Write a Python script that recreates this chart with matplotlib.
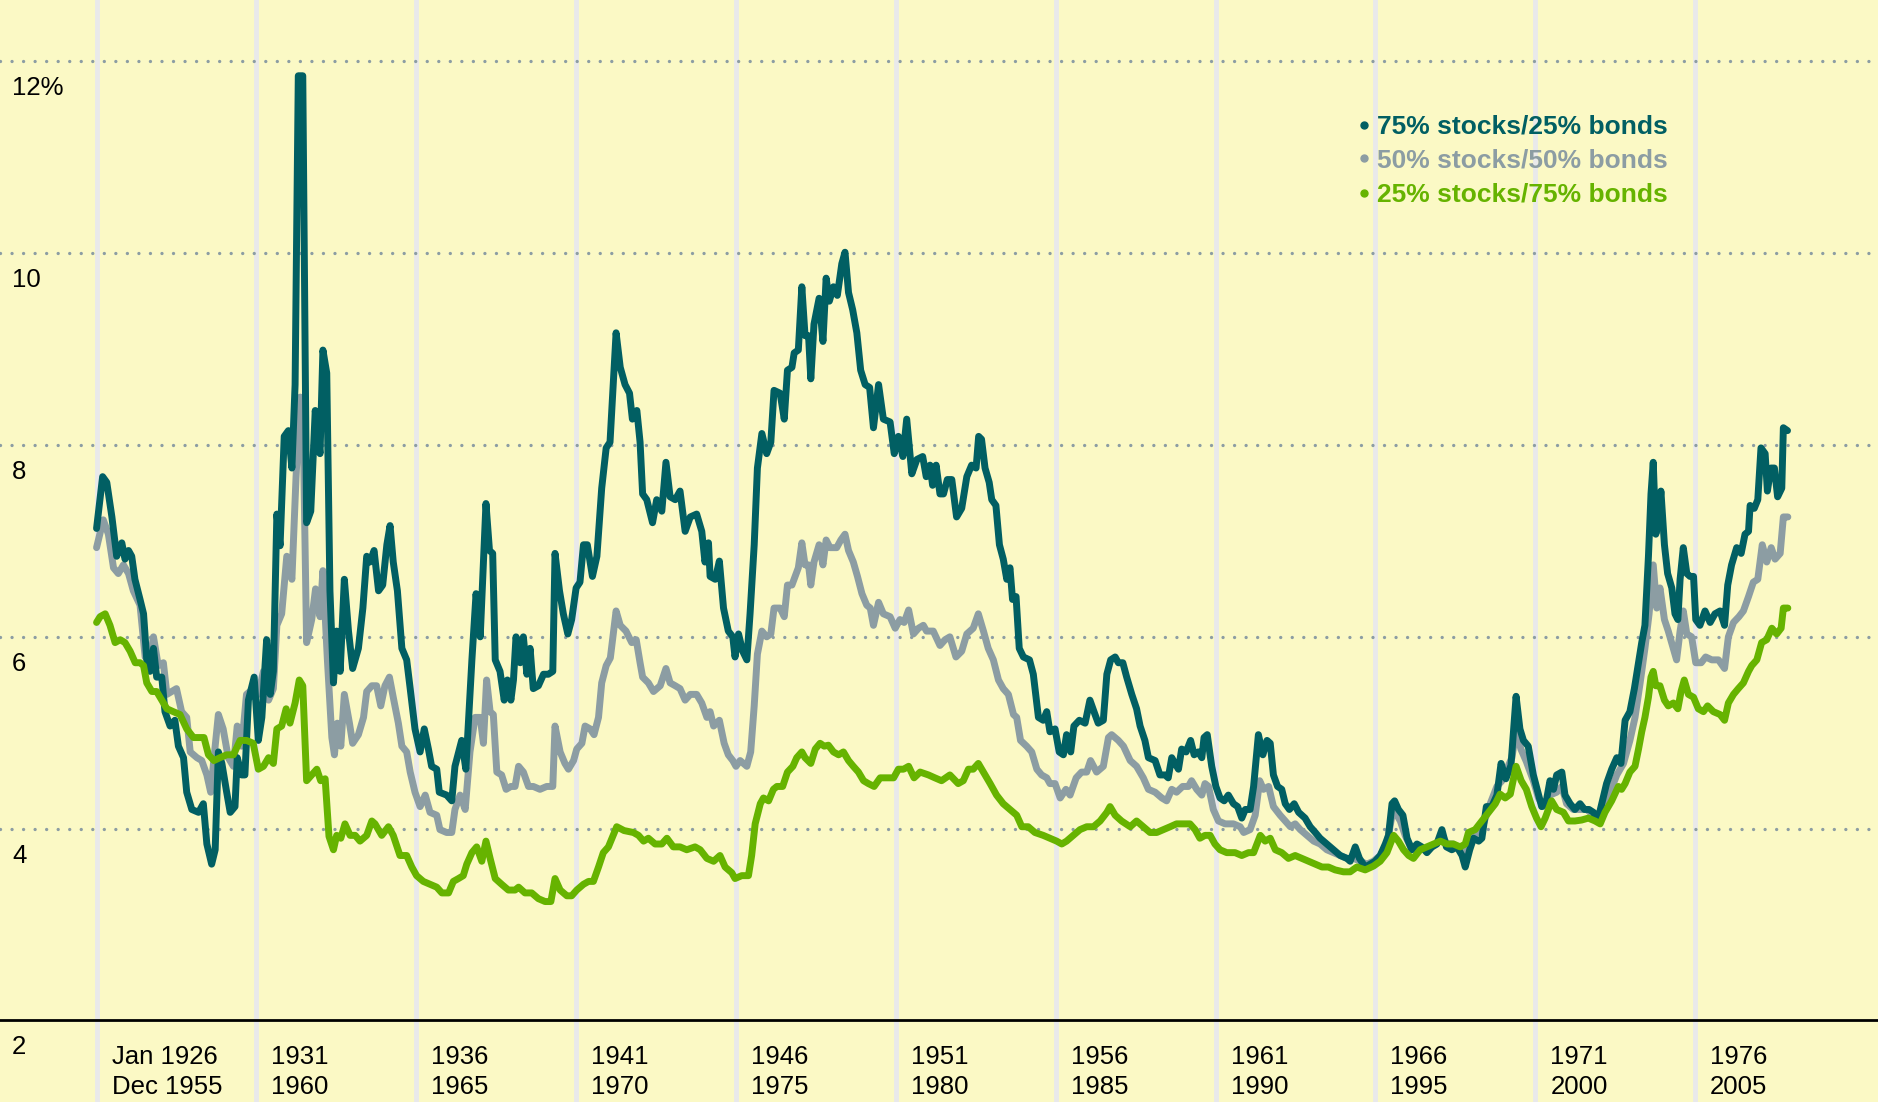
import matplotlib
matplotlib.use("Agg")
import matplotlib.pyplot as plt
import matplotlib.transforms as mtransforms
import numpy as np

plt.rcParams['font.family'] = ['Liberation Sans', 'DejaVu Sans']

# ---- data: years since Jan 1926 (start of 30-year period) and annualised return (%) ----
t_75 = [0.00, 0.19, 0.32, 0.48, 0.63, 0.79, 0.89, 1.00, 1.10, 1.20, 1.36, 1.47, 1.57, 1.67, 1.78, 1.88,
        2.04, 2.14, 2.30, 2.45, 2.56, 2.72, 2.82, 2.98, 3.19, 3.34, 3.45, 3.60, 3.71, 3.81, 3.92, 4.07,
        4.18, 4.33, 4.40, 4.54, 4.64, 4.75, 4.93, 5.06, 5.17, 5.32, 5.43, 5.53, 5.64, 5.74, 5.87, 6.00,
        6.11, 6.21, 6.31, 6.45, 6.57, 6.70, 6.84, 6.99, 7.08, 7.20, 7.30, 7.41, 7.51, 7.62, 7.75, 7.88,
        8.01, 8.19, 8.33, 8.45, 8.55, 8.68, 8.82, 8.95, 9.08, 9.18, 9.28, 9.41, 9.55, 9.70, 9.81, 9.96,
        10.12, 10.25, 10.38, 10.48, 10.64, 10.72, 10.95, 11.11, 11.21, 11.42, 11.55, 11.74, 11.87, 12.00,
        12.18, 12.29, 12.39, 12.47, 12.62, 12.75, 12.85, 12.96, 13.04, 13.12, 13.25, 13.35, 13.46, 13.56,
        13.66, 13.82, 13.98, 14.13, 14.27, 14.34, 14.48, 14.60, 14.74, 14.86, 15.00, 15.12, 15.23, 15.35,
        15.51, 15.65, 15.80, 15.94, 16.06, 16.25, 16.38, 16.53, 16.67, 16.76, 16.90, 17.00, 17.08, 17.21,
        17.39, 17.52, 17.68, 17.81, 17.94, 18.10, 18.25, 18.41, 18.57, 18.77, 18.93, 19.03, 19.14, 19.19,
        19.35, 19.48, 19.61, 19.76, 19.90, 19.97, 20.08, 20.21, 20.34, 20.44, 20.57, 20.67, 20.81, 20.96,
        21.09, 21.19, 21.38, 21.51, 21.61, 21.75, 21.82, 21.95, 22.06, 22.16, 22.27, 22.34, 22.44, 22.60,
        22.72, 22.82, 22.92, 23.05, 23.17, 23.31, 23.41, 23.52, 23.65, 23.78, 23.90, 24.04, 24.18, 24.30,
        24.46, 24.61, 24.82, 24.95, 25.08, 25.22, 25.34, 25.50, 25.66, 25.84, 25.95, 26.07, 26.15, 26.26,
        26.38, 26.49, 26.61, 26.75, 26.90, 27.06, 27.22, 27.37, 27.51, 27.59, 27.68, 27.79, 27.92, 28.00,
        28.13, 28.24, 28.36, 28.47, 28.57, 28.65, 28.76, 28.86, 28.99, 29.18, 29.30, 29.46, 29.61, 29.72,
        29.82, 29.98, 30.11, 30.24, 30.34, 30.47, 30.57, 30.74, 30.92, 31.07, 31.23, 31.33, 31.49, 31.60,
        31.72, 31.86, 31.96, 32.10, 32.22, 32.38, 32.53, 32.64, 32.79, 32.90, 33.11, 33.26, 33.42, 33.52,
        33.63, 33.73, 33.84, 33.94, 34.08, 34.22, 34.33, 34.46, 34.57, 34.64, 34.74, 34.88, 35.01, 35.14,
        35.27, 35.40, 35.56, 35.69, 35.82, 35.93, 36.08, 36.19, 36.34, 36.48, 36.61, 36.71, 36.81, 36.94,
        37.07, 37.18, 37.31, 37.46, 37.60, 37.80, 37.96, 38.12, 38.27, 38.48, 38.69, 38.90, 39.11, 39.21,
        39.37, 39.50, 39.68, 39.84, 39.99, 40.15, 40.31, 40.41, 40.52, 40.60, 40.72, 40.86, 40.99, 41.14,
        41.30, 41.45, 41.61, 41.77, 41.92, 42.08, 42.22, 42.39, 42.55, 42.71, 42.81, 42.95, 43.07, 43.23,
        43.33, 43.47, 43.64, 43.80, 43.93, 44.08, 44.24, 44.40, 44.52, 44.63, 44.78, 44.94, 45.08, 45.20,
        45.33, 45.46, 45.57, 45.67, 45.83, 45.93, 46.09, 46.24, 46.40, 46.54, 46.68, 46.82, 46.95, 47.08,
        47.23, 47.39, 47.55, 47.68, 47.81, 47.96, 48.10, 48.23, 48.33, 48.43, 48.54, 48.62, 48.69, 48.77,
        48.85, 48.93, 49.04, 49.14, 49.27, 49.37, 49.46, 49.53, 49.63, 49.74, 49.84, 49.95, 50.02, 50.15,
        50.31, 50.47, 50.62, 50.78, 50.92, 51.02, 51.14, 51.30, 51.44, 51.56, 51.67, 51.72, 51.85, 51.96,
        52.06, 52.19, 52.26, 52.37, 52.48, 52.58, 52.71, 52.76, 52.89]
v_75 = [7.13, 7.67, 7.61, 7.25, 6.84, 6.98, 6.81, 6.90, 6.84, 6.60, 6.39, 6.24, 5.76, 5.64, 5.88, 5.58,
        5.58, 5.22, 5.07, 5.13, 4.86, 4.74, 4.38, 4.20, 4.17, 4.26, 3.84, 3.63, 3.78, 4.80, 4.68, 4.38,
        4.17, 4.23, 4.74, 4.56, 4.56, 5.34, 5.58, 4.92, 5.16, 5.97, 5.40, 5.64, 7.28, 6.95, 8.09, 8.15,
        7.76, 8.63, 11.85, 11.85, 7.19, 7.31, 8.36, 7.91, 8.99, 8.75, 6.48, 5.52, 6.06, 5.64, 6.60, 6.06,
        5.67, 5.88, 6.30, 6.84, 6.78, 6.90, 6.48, 6.54, 6.96, 7.16, 6.78, 6.48, 5.88, 5.76, 5.46, 5.04,
        4.80, 5.04, 4.83, 4.65, 4.62, 4.38, 4.35, 4.29, 4.65, 4.92, 4.62, 5.76, 6.45, 6.00,
        7.39, 6.90, 6.87, 5.76, 5.64, 5.34, 5.55, 5.34, 5.55, 6.00, 5.73, 6.00, 5.61, 5.88,
        5.46, 5.49, 5.61, 5.61, 5.64, 6.87, 6.48, 6.24, 6.03, 6.18, 6.51, 6.57, 6.96, 6.96,
        6.63, 6.84, 7.55, 7.97, 8.03, 9.17, 8.81, 8.63, 8.54, 8.27, 8.36, 8.03, 7.49, 7.43,
        7.19, 7.43, 7.31, 7.82, 7.46, 7.43, 7.52, 7.10, 7.25, 7.28, 7.10, 6.78, 6.98, 6.63,
        6.60, 6.79, 6.30, 6.06, 6.00, 5.79, 6.03, 5.85, 5.76, 6.24, 6.96, 7.76, 8.12, 7.91,
        8.03, 8.57, 8.54, 8.27, 8.78, 8.81, 8.96, 8.99, 9.65, 9.14, 9.14, 8.69, 9.26, 9.53,
        9.08, 9.74, 9.50, 9.65, 9.56, 9.89, 10.01, 9.59, 9.41, 9.17, 8.78, 8.63, 8.60, 8.18,
        8.63, 8.27, 8.24, 7.91, 8.09, 7.88, 8.27, 7.70, 7.85, 7.88, 7.67, 7.79, 7.58, 7.79,
        7.49, 7.49, 7.64, 7.64, 7.25, 7.34, 7.67, 7.79, 7.76, 8.09, 8.06, 7.76, 7.61, 7.43,
        7.37, 6.96, 6.81, 6.60, 6.72, 6.39, 6.42, 5.88, 5.79, 5.76, 5.61, 5.16, 5.13, 5.22,
        5.01, 5.04, 4.80, 4.77, 4.98, 4.80, 5.07, 5.13, 5.10, 5.34, 5.19, 5.10, 5.13, 5.61,
        5.76, 5.79, 5.73, 5.73, 5.58, 5.40, 5.25, 5.07, 4.92, 4.74, 4.71, 4.56, 4.56, 4.53,
        4.74, 4.68, 4.62, 4.83, 4.80, 4.92, 4.77, 4.80, 4.74, 4.95, 4.98, 4.65, 4.44, 4.32,
        4.29, 4.35, 4.26, 4.23, 4.11, 4.20, 4.20, 4.44, 4.98, 4.77, 4.92, 4.89, 4.56, 4.44,
        4.41, 4.26, 4.20, 4.26, 4.17, 4.11, 4.02, 3.96, 3.90, 3.84, 3.78, 3.72, 3.69, 3.66,
        3.81, 3.69, 3.60, 3.63, 3.66, 3.72, 3.84, 3.93, 4.26, 4.29, 4.20, 4.14, 3.90, 3.78,
        3.84, 3.81, 3.75, 3.81, 3.84, 3.99, 3.81, 3.78, 3.81, 3.72, 3.60, 3.78, 3.90, 3.87,
        3.90, 4.23, 4.23, 4.35, 4.68, 4.52, 4.66, 5.38, 5.04, 4.92, 4.86, 4.56, 4.38, 4.23,
        4.26, 4.50, 4.41, 4.56, 4.59, 4.35, 4.26, 4.20, 4.26, 4.20, 4.20, 4.17, 4.08, 4.26,
        4.47, 4.62, 4.74, 4.68, 5.13, 5.22, 5.46, 5.73, 5.94, 6.12, 6.84, 7.49, 7.82, 7.07,
        7.19, 7.52, 6.96, 6.66, 6.51, 6.24, 6.18, 6.60, 6.93, 6.66, 6.63, 6.63, 6.18, 6.12,
        6.27, 6.15, 6.24, 6.27, 6.12, 6.54, 6.75, 6.93, 6.87, 7.07, 7.10, 7.37, 7.34, 7.43,
        7.97, 7.91, 7.52, 7.76, 7.76, 7.46, 7.55, 8.18, 8.15]

t_50 = [0.00, 0.21, 0.37, 0.53, 0.68, 0.84, 1.00, 1.15, 1.36, 1.52, 1.67, 1.78, 1.93, 2.09, 2.20, 2.35,
        2.50, 2.66, 2.82, 2.93, 3.14, 3.29, 3.45, 3.57, 3.71, 3.81, 3.96, 4.12, 4.28, 4.40, 4.54, 4.69,
        4.90, 5.06, 5.22, 5.38, 5.53, 5.64, 5.79, 5.95, 6.11, 6.24, 6.37, 6.45, 6.57, 6.73, 6.85, 6.99,
        7.08, 7.22, 7.36, 7.44, 7.53, 7.64, 7.75, 7.91, 8.01, 8.19, 8.35, 8.45, 8.61, 8.76, 8.89, 9.02,
        9.16, 9.28, 9.44, 9.55, 9.70, 9.81, 9.96, 10.12, 10.28, 10.43, 10.64, 10.74, 10.95, 11.11, 11.21,
        11.37, 11.53, 11.68, 11.84, 12.00, 12.10, 12.20, 12.31, 12.41, 12.52, 12.67, 12.81, 12.96, 13.09,
        13.20, 13.35, 13.51, 13.66, 13.87, 14.08, 14.27, 14.34, 14.50, 14.65, 14.76, 14.92, 15.02, 15.18,
        15.28, 15.44, 15.56, 15.70, 15.80, 15.94, 16.07, 16.25, 16.38, 16.56, 16.74, 16.88, 17.00, 17.08,
        17.26, 17.42, 17.63, 17.81, 17.94, 18.10, 18.25, 18.41, 18.57, 18.77, 18.93, 19.09, 19.19, 19.30,
        19.48, 19.63, 19.76, 19.90, 20.00, 20.13, 20.34, 20.46, 20.57, 20.67, 20.81, 20.96, 21.09, 21.19,
        21.38, 21.51, 21.61, 21.75, 21.85, 21.95, 22.06, 22.16, 22.27, 22.34, 22.44, 22.60, 22.72, 22.82,
        22.94, 23.15, 23.28, 23.41, 23.52, 23.67, 23.80, 23.94, 24.09, 24.20, 24.30, 24.46, 24.61, 24.82,
        24.98, 25.13, 25.26, 25.40, 25.55, 25.71, 25.86, 25.96, 26.17, 26.38, 26.54, 26.69, 26.88, 27.06,
        27.22, 27.42, 27.58, 27.74, 27.89, 28.05, 28.21, 28.36, 28.52, 28.68, 28.78, 28.90, 29.09, 29.25,
        29.41, 29.56, 29.72, 29.82, 29.98, 30.14, 30.32, 30.45, 30.64, 30.81, 30.97, 31.09, 31.28, 31.49,
        31.65, 31.75, 31.96, 32.12, 32.33, 32.53, 32.74, 32.90, 33.11, 33.32, 33.47, 33.63, 33.78, 33.97,
        34.15, 34.25, 34.41, 34.57, 34.67, 34.78, 34.93, 35.09, 35.30, 35.56, 35.77, 35.88, 36.08, 36.24,
        36.38, 36.50, 36.66, 36.81, 37.02, 37.18, 37.34, 37.49, 37.65, 37.86, 38.07, 38.27, 38.48, 38.69,
        38.90, 39.11, 39.32, 39.53, 39.73, 39.94, 40.15, 40.36, 40.52, 40.62, 40.78, 40.93, 41.14, 41.35,
        41.56, 41.77, 41.92, 42.08, 42.24, 42.44, 42.65, 42.81, 42.97, 43.17, 43.38, 43.59, 43.80, 43.96,
        44.11, 44.27, 44.40, 44.55, 44.72, 44.94, 45.10, 45.25, 45.46, 45.67, 45.83, 45.98, 46.19, 46.40,
        46.61, 46.82, 46.97, 47.13, 47.34, 47.55, 47.76, 47.96, 48.12, 48.28, 48.43, 48.56, 48.69, 48.80,
        48.90, 49.04, 49.16, 49.29, 49.42, 49.53, 49.63, 49.74, 49.89, 50.02, 50.19, 50.33, 50.52, 50.73,
        50.92, 51.04, 51.20, 51.37, 51.51, 51.67, 51.82, 51.96, 52.10, 52.24, 52.38, 52.50, 52.66, 52.76,
        52.90]
v_50 = [6.93, 7.22, 7.07, 6.72, 6.66, 6.75, 6.66, 6.48, 6.33, 5.79, 5.76, 6.00, 5.70, 5.73, 5.40, 5.43,
        5.46, 5.22, 5.16, 4.80, 4.74, 4.71, 4.56, 4.38, 4.86, 5.19, 5.04, 4.74, 4.65, 5.07, 4.86, 5.40,
        5.46, 5.40, 5.64, 5.34, 5.46, 6.12, 6.24, 6.84, 6.60, 7.67, 8.50, 8.45, 5.94, 6.18, 6.50, 6.21,
        6.69, 5.76, 4.95, 4.77, 5.10, 4.86, 5.40, 5.10, 4.89, 4.98, 5.16, 5.43, 5.49, 5.49, 5.28, 5.49,
        5.58, 5.37, 5.10, 4.86, 4.80, 4.59, 4.38, 4.23, 4.35, 4.17, 4.14, 3.99, 3.96, 3.96, 4.20,
        4.35, 4.20, 4.80, 5.16, 5.16, 4.89, 5.55, 5.22, 5.19, 4.59, 4.56, 4.41, 4.44, 4.44,
        4.65, 4.59, 4.44, 4.44, 4.41, 4.44, 4.44, 5.07, 4.80, 4.68, 4.62, 4.71, 4.83, 4.89,
        5.07, 5.04, 4.98, 5.16, 5.52, 5.70, 5.78, 6.27, 6.12, 6.06, 5.94, 5.97, 5.73, 5.58,
        5.52, 5.43, 5.49, 5.67, 5.52, 5.49, 5.46, 5.34, 5.40, 5.40, 5.31, 5.16, 5.22, 5.07,
        5.13, 4.89, 4.77, 4.71, 4.65, 4.71, 4.65, 4.80, 5.28, 5.82, 6.06, 6.00, 6.03, 6.30,
        6.30, 6.21, 6.54, 6.54, 6.63, 6.72, 6.98, 6.75, 6.75, 6.54, 6.78, 6.96, 6.75, 7.01,
        6.93, 6.93, 7.01, 7.07, 6.90, 6.78, 6.63, 6.45, 6.33, 6.30, 6.12, 6.36, 6.24, 6.21,
        6.09, 6.18, 6.15, 6.28, 6.03, 6.09, 6.12, 6.06, 6.06, 5.91, 5.97, 6.00, 5.79, 5.85,
        6.03, 6.09, 6.24, 6.06, 5.88, 5.76, 5.55, 5.46, 5.40, 5.19, 5.16, 4.92, 4.86, 4.80,
        4.62, 4.56, 4.53, 4.47, 4.47, 4.32, 4.41, 4.35, 4.53, 4.59, 4.59, 4.71, 4.59, 4.65,
        4.95, 4.98, 4.92, 4.86, 4.71, 4.65, 4.53, 4.41, 4.38, 4.32, 4.29, 4.41, 4.38, 4.44,
        4.44, 4.50, 4.41, 4.35, 4.47, 4.44, 4.20, 4.08, 4.05, 4.05, 4.02, 3.96, 3.99, 4.14,
        4.50, 4.41, 4.44, 4.23, 4.14, 4.08, 4.02, 4.05, 3.99, 3.93, 3.87, 3.84, 3.78, 3.75,
        3.72, 3.69, 3.69, 3.66, 3.63, 3.66, 3.72, 3.84, 4.14, 4.17, 4.08, 3.93, 3.78, 3.81,
        3.78, 3.81, 3.84, 3.93, 3.84, 3.84, 3.78, 3.72, 3.87, 3.96, 4.05, 4.26, 4.44, 4.50,
        4.62, 4.74, 5.03, 4.83, 4.70, 4.50, 4.32, 4.23, 4.35, 4.38, 4.44, 4.26, 4.20, 4.20,
        4.20, 4.14, 4.08, 4.23, 4.38, 4.56, 4.68, 4.92, 5.16, 5.52, 5.88, 6.24, 6.75, 6.30,
        6.51, 6.18, 6.06, 5.91, 5.76, 6.06, 6.27, 6.03, 6.00, 5.73, 5.73, 5.79, 5.76, 5.76,
        5.67, 6.00, 6.15, 6.21, 6.27, 6.42, 6.57, 6.60, 6.96, 6.78, 6.93, 6.81, 6.87, 7.25,
        7.25]

t_25 = [0.00, 0.11, 0.27, 0.42, 0.58, 0.74, 0.89, 1.05, 1.21, 1.36, 1.47, 1.57, 1.73, 1.88, 2.04, 2.20,
        2.40, 2.61, 2.82, 3.03, 3.24, 3.36, 3.50, 3.67, 3.86, 4.07, 4.28, 4.49, 4.69, 4.90, 5.06, 5.22,
        5.38, 5.53, 5.64, 5.79, 5.93, 6.05, 6.21, 6.34, 6.45, 6.57, 6.73, 6.89, 7.01, 7.15, 7.27, 7.41,
        7.51, 7.64, 7.77, 7.93, 8.09, 8.24, 8.45, 8.61, 8.71, 8.92, 9.13, 9.28, 9.49, 9.70, 9.86, 10.01,
        10.22, 10.43, 10.64, 10.80, 11.01, 11.16, 11.32, 11.47, 11.58, 11.74, 11.89, 12.05, 12.18, 12.31,
        12.47, 12.67, 12.88, 13.09, 13.20, 13.40, 13.61, 13.82, 14.03, 14.21, 14.34, 14.50, 14.71, 14.86,
        15.02, 15.23, 15.39, 15.54, 15.70, 15.85, 16.01, 16.12, 16.27, 16.50, 16.79, 16.95, 17.11, 17.26,
        17.47, 17.68, 17.84, 18.04, 18.25, 18.46, 18.72, 18.88, 19.09, 19.30, 19.50, 19.66, 19.87, 19.97,
        20.18, 20.39, 20.49, 20.60, 20.76, 20.86, 21.02, 21.17, 21.28, 21.46, 21.61, 21.78, 21.90, 22.06,
        22.16, 22.34, 22.48, 22.63, 22.76, 22.89, 23.05, 23.21, 23.36, 23.52, 23.67, 23.83, 23.99, 24.14,
        24.32, 24.51, 24.72, 24.93, 25.08, 25.24, 25.40, 25.57, 25.76, 26.02, 26.22, 26.43, 26.69, 26.95,
        27.11, 27.27, 27.42, 27.58, 27.74, 27.95, 28.15, 28.36, 28.57, 28.78, 28.94, 29.14, 29.35, 29.61,
        29.82, 30.03, 30.19, 30.34, 30.55, 30.76, 30.97, 31.18, 31.39, 31.60, 31.70, 31.86, 32.06, 32.33,
        32.53, 32.74, 32.95, 33.16, 33.37, 33.58, 33.78, 33.99, 34.20, 34.36, 34.51, 34.67, 34.83, 34.98,
        35.14, 35.35, 35.61, 35.82, 36.03, 36.19, 36.40, 36.55, 36.71, 36.87, 37.07, 37.28, 37.49, 37.70,
        37.91, 38.12, 38.33, 38.53, 38.74, 39.00, 39.21, 39.42, 39.68, 39.94, 40.15, 40.36, 40.57, 40.72,
        40.88, 41.04, 41.19, 41.40, 41.61, 41.82, 42.03, 42.24, 42.44, 42.65, 42.81, 42.91, 43.12, 43.33,
        43.54, 43.75, 43.90, 44.06, 44.22, 44.40, 44.56, 44.72, 44.89, 45.04, 45.18, 45.31, 45.51, 45.67,
        45.88, 46.04, 46.24, 46.45, 46.66, 46.87, 47.03, 47.18, 47.39, 47.60, 47.70, 47.81, 47.96, 48.12,
        48.23, 48.33, 48.43, 48.54, 48.62, 48.69, 48.77, 48.90, 49.04, 49.16, 49.32, 49.46, 49.56, 49.66,
        49.79, 49.95, 50.10, 50.26, 50.39, 50.57, 50.78, 50.92, 51.04, 51.20, 51.35, 51.51, 51.67, 51.77,
        51.93, 52.08, 52.24, 52.40, 52.55, 52.69, 52.76, 52.90]
v_25 = [6.15, 6.21, 6.24, 6.12, 5.94, 5.97, 5.94, 5.85, 5.73, 5.73, 5.70, 5.52, 5.43, 5.43, 5.34, 5.25,
        5.22, 5.19, 5.04, 4.95, 4.95, 4.95, 4.77, 4.71, 4.74, 4.77, 4.77, 4.92, 4.92, 4.89, 4.62, 4.65,
        4.74, 4.68, 5.04, 5.07, 5.25, 5.10, 5.31, 5.55, 5.49, 4.50, 4.56, 4.62, 4.50, 4.52, 3.92, 3.78,
        3.93, 3.90, 4.05, 3.93, 3.93, 3.87, 3.93, 4.08, 4.05, 3.93, 4.02, 3.93, 3.72, 3.72, 3.60, 3.51,
        3.45, 3.42, 3.39, 3.33, 3.33, 3.45, 3.48, 3.51, 3.63, 3.75, 3.81, 3.66, 3.87, 3.69,
        3.48, 3.42, 3.36, 3.36, 3.39, 3.33, 3.33, 3.27, 3.24, 3.24, 3.48, 3.36, 3.30, 3.30,
        3.36, 3.42, 3.45, 3.45, 3.60, 3.75, 3.81, 3.90, 4.02, 3.98, 3.96, 3.93, 3.87, 3.90,
        3.84, 3.84, 3.90, 3.81, 3.81, 3.78, 3.81, 3.78, 3.69, 3.66, 3.72, 3.60, 3.54, 3.48,
        3.51, 3.51, 3.72, 4.05, 4.26, 4.32, 4.29, 4.41, 4.44, 4.44, 4.59, 4.65, 4.74, 4.80,
        4.74, 4.68, 4.83, 4.89, 4.86, 4.87, 4.80, 4.77, 4.80, 4.71, 4.65, 4.59, 4.50, 4.47,
        4.44, 4.53, 4.53, 4.53, 4.62, 4.62, 4.65, 4.53, 4.59, 4.56, 4.53, 4.50, 4.56, 4.47,
        4.50, 4.62, 4.62, 4.68, 4.59, 4.47, 4.35, 4.26, 4.20, 4.14, 4.02, 4.02, 3.96, 3.93,
        3.90, 3.87, 3.84, 3.87, 3.93, 3.99, 4.02, 4.02, 4.08, 4.17, 4.23, 4.14, 4.08, 4.02,
        4.08, 4.02, 3.96, 3.96, 3.99, 4.02, 4.05, 4.05, 4.05, 3.99, 3.90, 3.93, 3.93, 3.84,
        3.78, 3.75, 3.75, 3.72, 3.75, 3.75, 3.93, 3.87, 3.90, 3.78, 3.75, 3.69, 3.72, 3.69,
        3.66, 3.63, 3.60, 3.60, 3.57, 3.55, 3.55, 3.60, 3.57, 3.61, 3.66, 3.75, 3.93, 3.87,
        3.78, 3.72, 3.69, 3.78, 3.81, 3.84, 3.87, 3.84, 3.84, 3.81, 3.84, 3.96, 3.99, 4.08,
        4.17, 4.26, 4.36, 4.32, 4.36, 4.65, 4.50, 4.41, 4.23, 4.11, 4.02, 4.11, 4.29, 4.20,
        4.17, 4.08, 4.08, 4.09, 4.11, 4.08, 4.05, 4.17, 4.29, 4.44, 4.41, 4.47, 4.59, 4.65,
        4.83, 5.01, 5.16, 5.37, 5.58, 5.64, 5.49, 5.49, 5.34, 5.28, 5.31, 5.25, 5.43, 5.55,
        5.40, 5.37, 5.25, 5.22, 5.28, 5.22, 5.19, 5.13, 5.31, 5.40, 5.46, 5.52, 5.64, 5.70,
        5.76, 5.94, 5.97, 6.09, 6.03, 6.09, 6.30, 6.30]

START_YEAR = 1926
tick_years = [1926, 1931, 1936, 1941, 1946, 1951, 1956, 1961, 1966, 1971, 1976]
tick_labels = ["Jan 1926\nDec 1955", "1931\n1960", "1936\n1965", "1941\n1970", "1946\n1975",
               "1951\n1980", "1956\n1985", "1961\n1990", "1966\n1995", "1971\n2000", "1976\n2005"]
y_levels = [2, 4, 6, 8, 10, 12]
y_labels = ["2", "4", "6", "8", "10", "12%"]
series_names = ["75% stocks/25% bonds", "50% stocks/50% bonds", "25% stocks/75% bonds"]

# colours
BG = "#FBF9C5"
TEAL = "#015F63"
GREY = "#8C9DA3"
GREEN = "#66B300"
VLINE = "#E9E9EA"

fig = plt.figure(figsize=(18.78, 11.02), dpi=100, facecolor=BG)
ax = fig.add_axes([0, 0, 1, 1])
ax.set_facecolor(BG)
for s in ax.spines.values():
    s.set_visible(False)
ax.set_xticks([])
ax.set_yticks([])
ax.set_xlim(START_YEAR - 3.02, START_YEAR + 55.72)
ax.set_ylim(1.15, 12.64)

# vertical year lines
for yr in tick_years:
    ax.axvline(yr, color=VLINE, lw=3.5, zorder=1)

# dotted horizontal gridlines, solid base line at 2
for lv in y_levels:
    if lv == 2:
        ax.axhline(lv, color="black", lw=2.0, zorder=2)
    else:
        ax.axhline(lv, color=GREY, lw=2.4, linestyle=(0, (0.01, 3.45)),
                   dash_capstyle="round", zorder=2)

# y labels sit just under each gridline
ylab_tr = mtransforms.offset_copy(ax.get_yaxis_transform(), fig=fig, x=0, y=-27, units="dots")
for lv, lab in zip(y_levels, y_labels):
    ax.text(12 / 1878, lv, lab, transform=ylab_tr, ha="left", va="center",
            fontsize=18.5, color="black")

# x labels: two lines, right of each vertical line
xlab_tr = mtransforms.offset_copy(ax.get_xaxis_transform(), fig=fig, x=15, y=0, units="dots")
for yr, lab in zip(tick_years, tick_labels):
    ax.text(yr, 1 - 1072 / 1102, lab, transform=xlab_tr, ha="left", va="center",
            fontsize=18.5, color="black", linespacing=1.3)

# series
lw = 5.0
style = dict(lw=lw, solid_joinstyle="round", solid_capstyle="round")
ax.plot(START_YEAR + np.array(t_50), v_50, color=GREY, zorder=3, **style)
ax.plot(START_YEAR + np.array(t_75), v_75, color=TEAL, zorder=4, **style)
ax.plot(START_YEAR + np.array(t_25), v_25, color=GREEN, zorder=5, **style)

# legend as coloured text with bullets
leg_y = [1 - 127 / 1102, 1 - 160.5 / 1102, 1 - 195 / 1102]
for name, col, yy in zip(series_names, [TEAL, GREY, GREEN], leg_y):
    ax.plot([1364 / 1878], [yy + 0.002], marker="o", ms=5, color=col,
            transform=ax.transAxes, zorder=6)
    ax.text(1377 / 1878, yy, name, transform=ax.transAxes, ha="left", va="center",
            fontsize=19, fontweight="bold", color=col, zorder=6)

fig.savefig("out.png", dpi=100, facecolor=BG)
